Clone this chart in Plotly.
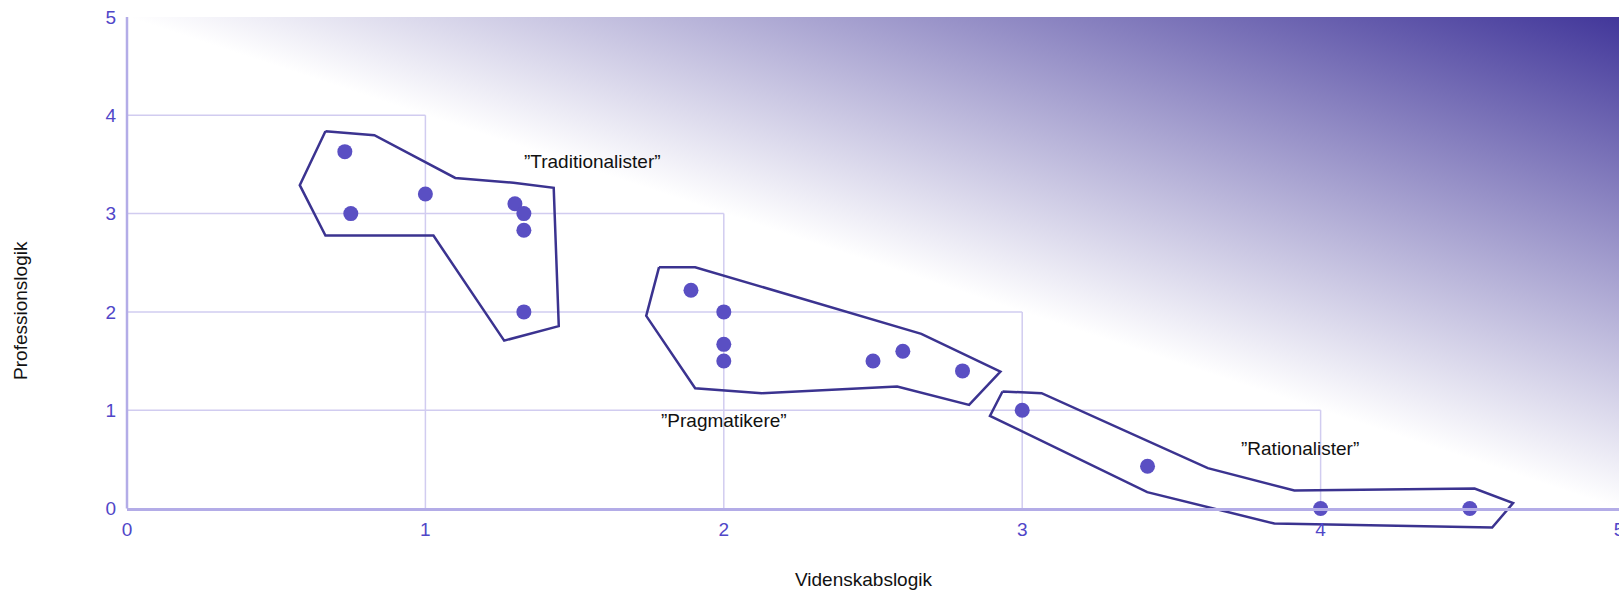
import base64
import plotly.graph_objects as go

# ---- data ----
trad_x = [0.73, 0.75, 1.0, 1.3, 1.33, 1.33, 1.33]
trad_y = [3.63, 3.0, 3.2, 3.1, 3.0, 2.83, 2.0]
prag_x = [1.89, 2.0, 2.0, 2.0, 2.5, 2.6, 2.8]
prag_y = [2.22, 2.0, 1.67, 1.5, 1.5, 1.6, 1.4]
rat_x = [3.0, 3.42, 4.0, 4.5]
rat_y = [1.0, 0.43, 0.0, 0.0]

trad_hull_x = [0.665, 0.829, 1.100, 1.295, 1.430, 1.447, 1.264, 1.027, 0.665, 0.579]
trad_hull_y = [3.838, 3.797, 3.363, 3.314, 3.262, 1.855, 1.708, 2.776, 2.776, 3.289]
prag_hull_x = [1.783, 1.904, 2.662, 2.927, 2.822, 2.581, 2.127, 1.904, 1.740]
prag_hull_y = [2.455, 2.455, 1.777, 1.393, 1.054, 1.241, 1.173, 1.224, 1.960]
rat_hull_x = [2.934, 3.065, 3.622, 3.912, 4.516, 4.645, 4.575, 3.845, 3.419, 2.892]
rat_hull_y = [1.190, 1.173, 0.411, 0.183, 0.203, 0.055, -0.193, -0.153, 0.167, 0.943]

group_labels = ["\u201dTraditionalister\u201d", "\u201dPragmatikere\u201d", "\u201dRationalister\u201d"]
label_x = [1.56, 2.0, 3.93]
label_y = [3.53, 0.90, 0.61]

ticks = [0, 1, 2, 3, 4, 5]
axis_max = 5

# ---- styles ----
MARKER = "#5a4fc3"
HULL = "#3b3390"
GRID = "#d1ccf0"
AXIS = "#b3ace7"
TICKC = "#5046c8"
FONT = "Liberation Sans, Arial, sans-serif"
Y_PAD = 0.3  # extra room below the x axis so the outlines can cross it

fig = go.Figure()

# clipped gridlines (below the diagonal)
gx, gy = [], []
for k in ticks[1:-1]:
    gx += [0, axis_max - k, None, k, k, None]
    gy += [k, k, None, 0, axis_max - k, None]
fig.add_trace(go.Scatter(x=gx, y=gy, mode="lines", line=dict(color=GRID, width=1.5),
                         hoverinfo="skip", showlegend=False))

for hx, hy in [(trad_hull_x, trad_hull_y), (prag_hull_x, prag_hull_y), (rat_hull_x, rat_hull_y)]:
    fig.add_trace(go.Scatter(x=hx + hx[:1], y=hy + hy[:1], mode="lines",
                             line=dict(color=HULL, width=2.5), hoverinfo="skip",
                             showlegend=False))

for px, py in [(trad_x, trad_y), (prag_x, prag_y), (rat_x, rat_y)]:
    fig.add_trace(go.Scatter(x=px, y=py, mode="markers", cliponaxis=False,
                             marker=dict(color=MARKER, size=15), showlegend=False))

# gradient triangle above the diagonal
svg = (
    '<svg xmlns="http://www.w3.org/2000/svg" width="1000" height="1000" viewBox="0 0 100 100" preserveAspectRatio="none">'
    '<defs><linearGradient id="g" gradientUnits="userSpaceOnUse" x1="50" y1="50" x2="100" y2="0">'
    '<stop offset="0" stop-color="#ffffff"/><stop offset="1" stop-color="#42379a"/>'
    '</linearGradient></defs>'
    '<polygon points="0,0 100,0 100,100" fill="url(#g)"/></svg>'
)
src = "data:image/svg+xml;base64," + base64.b64encode(svg.encode()).decode()
fig.add_layout_image(dict(source=src, xref="x", yref="y", x=0, y=axis_max,
                          sizex=axis_max, sizey=axis_max, sizing="stretch",
                          xanchor="left", yanchor="top", layer="below"))

# y axis line from 0 to max (x axis line is drawn natively)
fig.add_shape(type="line", xref="paper", yref="y", x0=0, x1=0, y0=0, y1=axis_max,
              line=dict(color=AXIS, width=2.5), layer="above")

for t, x, y in zip(group_labels, label_x, label_y):
    fig.add_annotation(x=x, y=y, text=t, showarrow=False,
                       font=dict(family=FONT, size=19, color="#111111"))

fig.add_annotation(xref="paper", yref="paper", x=0.4933, y=-0.080, text="Videnskabslogik",
                   showarrow=False, yanchor="middle",
                   font=dict(family=FONT, size=19, color="#111111"))
fig.add_annotation(xref="paper", yref="paper", x=-0.071, y=0.436, text="Professionslogik",
                   showarrow=False, textangle=-90, xanchor="center", yanchor="middle",
                   font=dict(family=FONT, size=19, color="#111111"))

tickfont = dict(family=FONT, size=19, color=TICKC)
pad_frac = Y_PAD / (axis_max + Y_PAD)
fig.update_layout(
    xaxis=dict(range=[0, axis_max], tickvals=ticks, anchor="free", position=pad_frac,
               showline=True, linecolor=AXIS, linewidth=2.5, ticks="",
               showgrid=False, zeroline=False, tickfont=tickfont, automargin=False,
               ticklabelstandoff=3, ticklabeloverflow="allow", fixedrange=True),
    yaxis=dict(range=[-Y_PAD, axis_max], tickvals=ticks, showline=False, ticks="",
               showgrid=False, zeroline=False, tickfont=tickfont, automargin=False,
               ticklabelstandoff=10, ticklabeloverflow="allow", fixedrange=True),
    width=1619, height=592, margin=dict(l=127, r=0, t=17, b=54, autoexpand=False),
    paper_bgcolor="white", plot_bgcolor="white", showlegend=False,
    font=dict(family=FONT),
)

fig.write_html(
    "out.html",
    config={"displayModeBar": False},
    post_script=("document.documentElement.style.overflow='hidden';"
                 "document.body.style.margin='0';document.body.style.overflow='hidden';"),
)
